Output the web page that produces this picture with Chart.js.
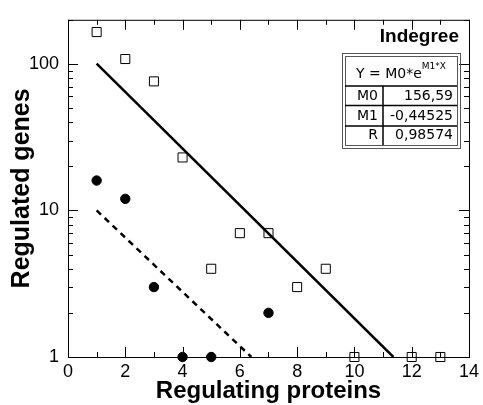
<!DOCTYPE html>
<html>
<head>
    <title>Indegree</title>
    <script src="https://cdn.jsdelivr.net/npm/chart.js"></script>
    <style>
        body { margin: 0; background: #fff; }
    </style>
</head>
<body>
    <canvas id="indegreeChart" width="483" height="405"></canvas>

    <script>
        // open squares: regulated genes per number of regulating proteins
        const squareX = [1, 2, 3, 4, 5, 6, 7, 8, 9, 10, 12, 13];
        const squareY = [165, 108, 76, 23, 4, 7, 7, 3, 4, 1, 1, 1];
        // filled circles
        const circleX = [1, 2, 3, 4, 5, 7];
        const circleY = [16, 12, 3, 1, 1, 2];
        // fitted lines (straight on a log axis, so two ends are enough)
        const fitSolidX = [1, 11.36];
        const fitSolidY = [100.3, 1];
        const fitDashX = [1, 6.4];
        const fitDashY = [10, 1];

        const yLabelTicks = [1, 10, 100];
        const fitTitle = 'Indegree';
        const fitRowNames = ['M0', 'M1', 'R'];
        const fitRowValues = ['156,59', '-0,44525', '0,98574'];

        const toPoints = (xs, ys) => xs.map((x, i) => ({ x: x, y: ys[i] }));

        // frame, inward ticks on all four sides, and the fit table
        const framePlugin = {
            id: 'frame',
            afterDraw(chart) {
                const ctx = chart.ctx;
                const a = chart.chartArea;
                const xs = chart.scales.x, ys = chart.scales.y;
                ctx.save();
                ctx.strokeStyle = '#000';
                ctx.lineWidth = 1;
                ctx.strokeRect(a.left + 0.5, a.top + 0.5, a.right - a.left, a.bottom - a.top);
                ctx.beginPath();
                for (let v = 0; v <= 14; v++) {
                    const px = Math.round(xs.getPixelForValue(v)) + 0.5;
                    const len = v % 2 === 0 ? 10 : 5;
                    ctx.moveTo(px, a.bottom); ctx.lineTo(px, a.bottom - len);
                    ctx.moveTo(px, a.top); ctx.lineTo(px, a.top + len);
                }
                [1, 10, 100].forEach(dec => {
                    for (let m = 1; m <= 9; m++) {
                        const v = dec * m;
                        if (v > 200) break;
                        const py = Math.round(ys.getPixelForValue(v)) + 0.5;
                        const len = m === 1 ? 10 : 5;
                        ctx.moveTo(a.left, py); ctx.lineTo(a.left + len, py);
                        ctx.moveTo(a.right, py); ctx.lineTo(a.right - len, py);
                    }
                });
                ctx.stroke();

                // title
                ctx.fillStyle = '#000';
                ctx.font = 'bold 19px "Liberation Sans", Arial, sans-serif';
                ctx.textAlign = 'right';
                ctx.textBaseline = 'middle';
                ctx.fillText(fitTitle, 459, 37);

                // table
                const L = 342, R = 460, T = 53, B = 148;
                ctx.strokeStyle = '#555';
                ctx.lineWidth = 1;
                ctx.strokeRect(L + 0.5, T + 0.5, R - L, B - T);
                ctx.strokeRect(L + 3.5, T + 3.5, R - L - 6, B - T - 6);
                ctx.strokeStyle = '#000';
                ctx.lineWidth = 1.5;
                ctx.beginPath();
                [86, 105.5, 126].forEach(y => { ctx.moveTo(L + 3, y); ctx.lineTo(R - 3, y); });
                ctx.moveTo(383, 86); ctx.lineTo(383, B - 3);
                ctx.stroke();

                ctx.font = '14px "DejaVu Sans", sans-serif';
                ctx.textAlign = 'left';
                const base = 'Y = M0*e';
                const w1 = ctx.measureText(base).width;
                ctx.font = '9px "DejaVu Sans", sans-serif';
                const sup = 'M1*X';
                const w2 = ctx.measureText(sup).width;
                const sx = 401 - (w1 + w2) / 2;
                ctx.font = '14px "DejaVu Sans", sans-serif';
                ctx.fillText(base, sx, 74);
                ctx.font = '9px "DejaVu Sans", sans-serif';
                ctx.fillText(sup, sx + w1, 67);

                ctx.font = '14px "DejaVu Sans", sans-serif';
                ctx.textAlign = 'right';
                const rowY = [96, 116, 135];
                fitRowNames.forEach((n, i) => {
                    ctx.fillText(n, 378, rowY[i]);
                    ctx.fillText(fitRowValues[i], 453, rowY[i]);
                });
                ctx.restore();
            }
        };

        const ctx = document.getElementById('indegreeChart').getContext('2d');
        new Chart(ctx, {
            type: 'scatter',
            data: {
                datasets: [
                    {
                        label: 'fit',
                        type: 'line',
                        data: toPoints(fitSolidX, fitSolidY),
                        borderColor: '#000',
                        borderWidth: 2.5,
                        pointRadius: 0,
                        fill: false
                    },
                    {
                        label: 'fit dashed',
                        type: 'line',
                        data: toPoints(fitDashX, fitDashY),
                        borderColor: '#000',
                        borderWidth: 2.5,
                        borderDash: [6, 5],
                        pointRadius: 0,
                        fill: false
                    },
                    {
                        label: 'squares',
                        data: toPoints(squareX, squareY),
                        pointStyle: 'rect',
                        pointRadius: 6.4,
                        backgroundColor: '#fff',
                        borderColor: '#000',
                        borderWidth: 1,
                        clip: false
                    },
                    {
                        label: 'circles',
                        data: toPoints(circleX, circleY),
                        pointStyle: 'circle',
                        pointRadius: 4.7,
                        backgroundColor: '#000',
                        borderColor: '#000',
                        borderWidth: 1,
                        clip: false
                    }
                ]
            },
            options: {
                responsive: false,
                animation: false,
                layout: { padding: { top: 10, right: 9, left: 0, bottom: 0 } },
                plugins: {
                    legend: { display: false },
                    tooltip: { enabled: false }
                },
                scales: {
                    x: {
                        type: 'linear',
                        min: 0,
                        max: 14,
                        grid: { display: false, drawTicks: false },
                        border: { display: false },
                        ticks: {
                            stepSize: 2,
                            color: '#000',
                            padding: 4,
                            font: { family: '"Liberation Sans", Arial, sans-serif', size: 18 }
                        },
                        title: {
                            display: true,
                            text: 'Regulating proteins',
                            color: '#000',
                            padding: { top: 0, bottom: 0 },
                            font: { family: '"Liberation Sans", Arial, sans-serif', size: 24, weight: 'bold', lineHeight: 1.1 }
                        },
                        afterFit: s => { s.height = 48; }
                    },
                    y: {
                        type: 'logarithmic',
                        min: 1,
                        max: 200,
                        grid: { display: false, drawTicks: false },
                        border: { display: false },
                        afterBuildTicks: s => { s.ticks = yLabelTicks.map(v => ({ value: v })); },
                        ticks: {
                            color: '#000',
                            padding: 9,
                            callback: v => String(v),
                            font: { family: '"Liberation Sans", Arial, sans-serif', size: 18 }
                        },
                        title: {
                            display: true,
                            text: 'Regulated genes',
                            color: '#000',
                            padding: { top: 8, bottom: 0 },
                            font: { family: '"Liberation Sans", Arial, sans-serif', size: 25, weight: 'bold', lineHeight: 1.1 }
                        },
                        afterFit: s => { s.width = 68; }
                    }
                }
            },
            plugins: [framePlugin]
        });
    </script>
</body>
</html>
